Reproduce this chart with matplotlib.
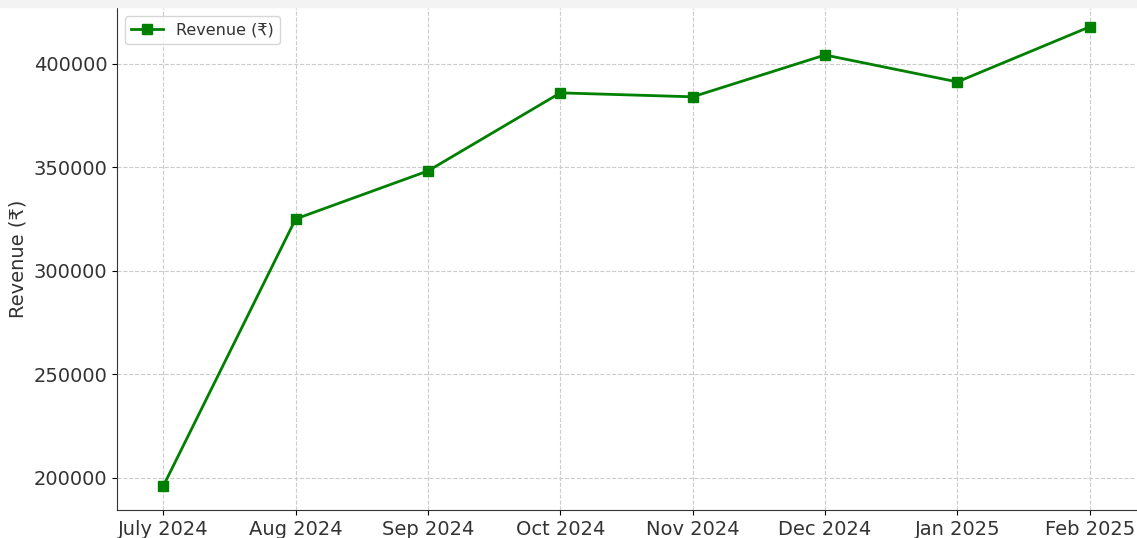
import matplotlib.pyplot as plt
from matplotlib.patches import Rectangle

months = ['July 2024', 'Aug 2024', 'Sep 2024', 'Oct 2024',
          'Nov 2024', 'Dec 2024', 'Jan 2025', 'Feb 2025']
revenue = [196100, 325100, 348300, 386000, 384100, 404300, 391300, 417900]

W, H = 1137, 538
fig = plt.figure(figsize=(W / 100, H / 100), dpi=100)
# faint band along the top edge, as in the screenshot
fig.patches.append(Rectangle((0, (H - 7) / H), 1, 7 / H, transform=fig.transFigure,
                             color='#f3f3f3', zorder=0))
ax = fig.add_axes([117 / W, (H - 510) / H, (1136 - 117) / W, (510 - 8) / H])

ax.plot(months, revenue, marker='s', color='green', linewidth=2,
        markersize=7, label='Revenue (₹)')

ax.set_ylim(184500, 427000)
ax.set_ylabel('Revenue (₹)', fontsize=14, color='#333333')
ax.tick_params(labelsize=14, labelcolor='#333333')
ax.grid(True, linestyle='--', color='#cccccc', linewidth=0.8)
ax.spines['top'].set_visible(False)
ax.spines['right'].set_visible(False)
ax.spines['left'].set_color('#333333')
ax.spines['bottom'].set_color('#333333')
leg = ax.legend(loc='upper left', fontsize=11.5)
for t in leg.get_texts():
    t.set_color('#333333')

fig.savefig('out.png', dpi=100)
